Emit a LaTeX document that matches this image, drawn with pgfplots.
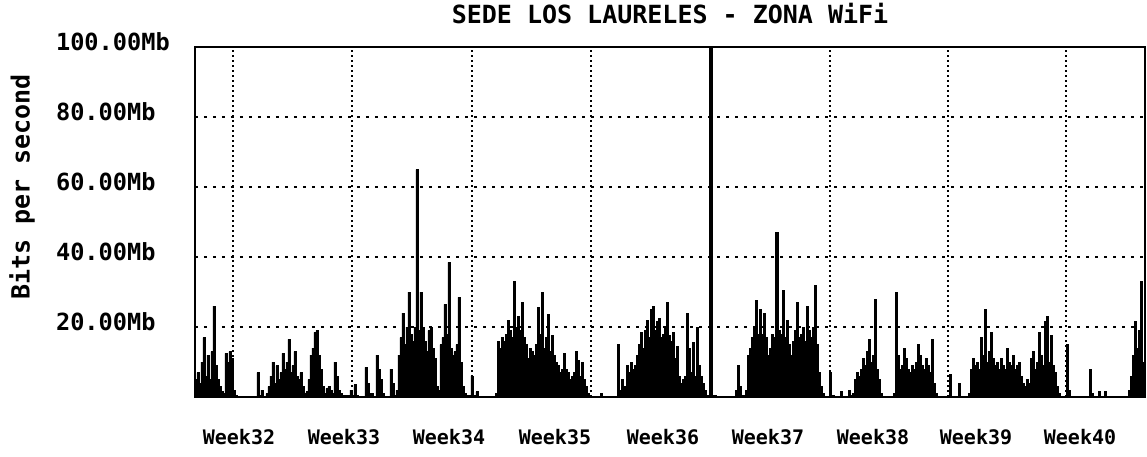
\documentclass[border=0pt]{standalone}
\usepackage{fontspec}
\setmainfont{DejaVu Sans Mono}
\usepackage{pgfplots}
\usepackage{pgfplotstable}
\pgfplotsset{compat=1.18}

% traffic in Mb/s, x in screen columns of the original graph
\pgfplotstableread{
x y
195 5
197 7
199 4
201 10
203 17
205 6
207 12
209 5
211 13
213 26
215 9
217 5
219 3
221 1.5
223 1
225 12.5
227 10
229 13
231 11
233 2
235 0.5
237 0
257 7
259 0.5
261 2
263 0
266 1
268 3
270 6
272 10
274 4
276 9
278 5
280 7
282 12.5
284 8
286 10
288 16.5
290 7
292 9
294 13
296 6
298 5
300 7
302 3
304 1
306 1.5
308 5
310 12
312 14
314 18.5
316 19
318 12
320 8
322 3
324 1
326 2.5
328 3
330 2
332 1
334 10
336 6
338 2
340 1
342 0.5
350 2
352 0.5
354 3.5
356 0.5
358 0
365 8.5
367 4
369 1
373 0
376 12
378 8
380 5
382 1
384 0
390 8
392 4
394 0.5
396 2
398 12
400 17
402 24
404 15
406 20
408 30
410 18
412 16
414 20
416 65
418 19
420 30
422 20
424 16
426 13
428 19
430 20
432 14
434 11
436 3
438 2
440 15
442 17
444 26.5
446 18
448 38.5
450 14
452 12
454 13
456 15
458 28.5
460 10
462 3
464 1
466 0.5
471 6
473 0.5
476 1.5
478 0
495 1
497 16
499 14
501 17
503 16
505 18
507 22
509 19
511 17
513 33
515 20
517 23
519 19
521 27
523 17
525 15
527 11
529 14
531 13
533 12
535 15
537 25.5
539 18
541 30
543 14
545 17
547 23.5
549 13
551 17.5
553 12
555 10
557 9
559 7
561 8
563 12.5
565 8
567 7
569 5
571 6
573 7
575 13
577 10.5
579 6
581 10
583 5
585 3
587 1
589 0
600 1
602 0
617 15
619 2
621 5
623 3
626 9
628 7
630 10
632 8
634 9
636 12
638 15
640 18.5
642 14
644 19
646 22
648 17
650 25
652 26
654 19
656 21.5
658 22.5
660 17
662 18
664 20
666 27
668 17.5
670 16
672 18.5
674 11
676 14.5
678 6
680 4
682 5
684 6
686 24
688 14
690 7
692 15.5
694 6
696 20
698 9
700 6
702 4
704 2
706 0.5
709 100
712 0.5
716 0
735 2
737 9
739 3
741 0.5
745 2
747 12
749 14
751 17
753 20
755 27.5
757 18
759 25
761 18
763 24
765 17
767 12
769 14
771 18
773 17
775 47
778 19
780 18
782 30.5
784 17
786 22
788 15
790 12
792 16
794 19
796 27
798 17
800 18
802 20
804 16
806 26
808 19
810 17
812 20
814 32
816 15
818 7
820 3
822 1
824 0
829 7
831 0.5
834 0
840 1.5
842 0
848 2
850 0.5
852 1
854 5
856 7
858 6
860 8
862 11
864 9
866 13
868 16.5
870 10
872 12
874 28
876 8
878 5
880 1
882 0
893 1
895 30
897 12
899 8
901 9
903 14
905 11
907 8
909 7
911 9
913 8
915 10
917 15
919 12
921 9
923 8
925 11
927 9
929 7
931 16.5
933 4
935 1
937 0
949 6.5
951 0
958 4
960 0
968 1
970 8
972 11
974 9
976 10
978 8
980 17
982 12
984 25
986 10
988 13
990 18.5
992 11
994 9
996 10
998 8
1000 11
1002 9
1004 8
1006 14
1008 10
1010 9
1012 12
1014 8
1016 9
1018 10
1020 6
1022 4
1024 3
1026 5
1028 4
1030 11
1032 13
1034 8
1036 10
1038 18.5
1040 12
1042 9
1044 21.5
1046 23
1048 10
1050 17.5
1052 9
1054 7
1056 3
1058 1
1060 0
1066 15
1068 2
1070 0
1089 8
1091 1
1093 0
1098 1.5
1100 0
1104 1.5
1106 0
1128 2
1130 6
1132 12
1134 21.5
1136 14
1138 19
1140 33
1142 10
1144 8
1145 8
}\traffic

\begin{document}
\begin{tikzpicture}
\begin{axis}[
    scale only axis,
    width=475pt, height=175pt,
    xmin=195, xmax=1145, ymin=0, ymax=100,
    axis line style={line width=1.3pt},
    major tick length=0pt,
    xtick={239,344,449,555,663,768,873,976,1080},
    xticklabels={Week32,Week33,Week34,Week35,Week36,Week37,Week38,Week39,Week40},
    xticklabel style={font=\fontsize{10}{12}\selectfont\bfseries, anchor=center, yshift=-20pt},
    ytick={20,40,60,80,100},
    yticklabels={20.00Mb,40.00Mb,60.00Mb,80.00Mb,100.00Mb},
    yticklabel style={font=\fontsize{11.8}{13}\selectfont\bfseries, anchor=west, xshift=-73pt, yshift=2.5pt},
    ymajorgrids,
    major grid style={black, line width=1.3pt, dash pattern=on 1.5pt off 3pt},
    extra x ticks={233,352,472,591,711,830,948,1066},
    extra x tick labels={},
    extra x tick style={xmajorgrids, major grid style={black, line width=1.2pt, dash pattern=on 1pt off 1.5pt}},
    title={SEDE LOS LAURELES - ZONA WiFi},
    title style={font=\fontsize{12.5}{14}\selectfont\bfseries, at={(axis description cs:0.5,1.062)}, anchor=center},
    ylabel={Bits per second},
    ylabel style={font=\fontsize{12.5}{14}\selectfont\bfseries, at={(axis description cs:-0.182,0.6)}, anchor=center},
]
\addplot[const plot, fill=black, draw=black, line width=0.3pt] table[x=x, y=y] {\traffic} \closedcycle;
\coordinate (bl) at (rel axis cs:0,0);
\coordinate (tr) at (rel axis cs:1,1);
\end{axis}
\pgfresetboundingbox
\path ([shift={(-97.5pt,-29.5pt)}]bl) rectangle ([shift={(1pt,23.5pt)}]tr);
\end{tikzpicture}
\end{document}
